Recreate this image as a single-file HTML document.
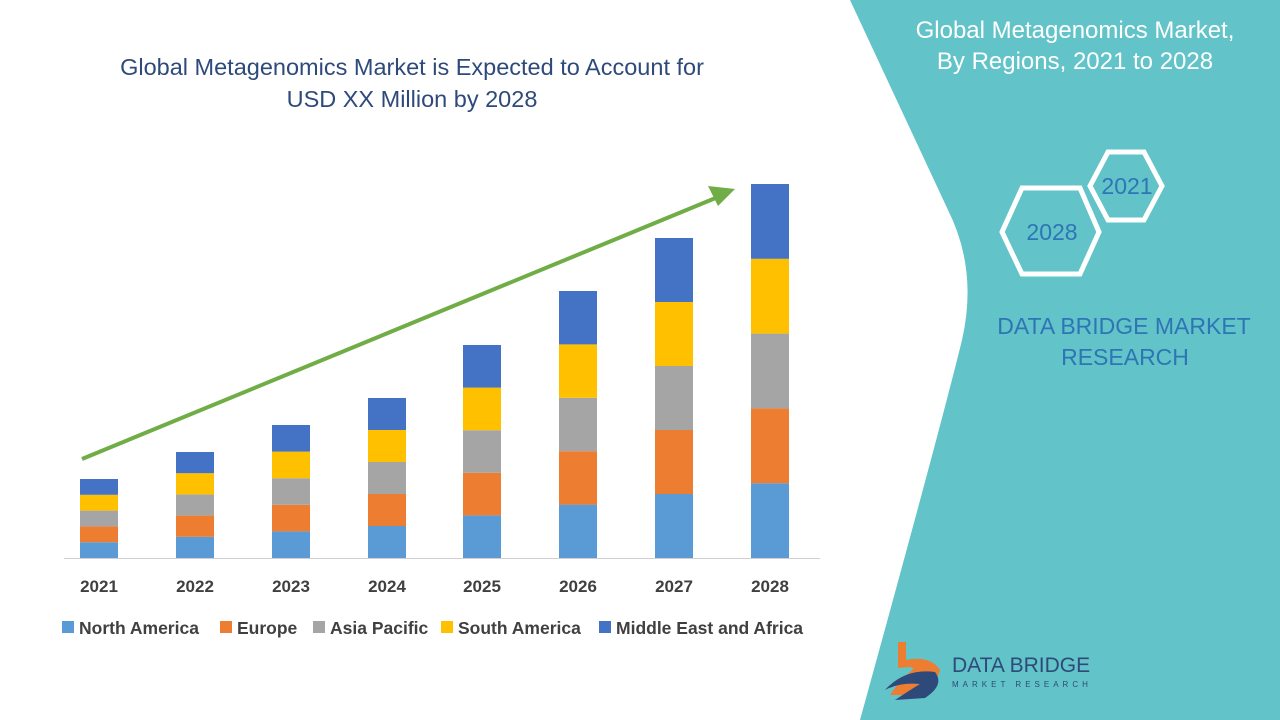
<!DOCTYPE html>
<html><head><meta charset="utf-8"><style>
body{margin:0;width:1280px;height:720px;overflow:hidden;background:#fff;font-family:"Liberation Sans",sans-serif;}
</style></head><body>
<svg width="1280" height="720" xmlns="http://www.w3.org/2000/svg" style="position:absolute;left:0;top:0">
<path d="M850,0 L948,210 Q978,270 962,340 Q940,430 860,720 L1280,720 L1280,0 Z" fill="#62C3C8"/>
<g fill="#2E4A7A" font-size="23.5" text-anchor="middle">
<text x="412" y="75">Global Metagenomics Market is Expected to Account for</text>
<text x="412" y="107">USD XX Million by 2028</text>
</g>
<line x1="64" y1="558.5" x2="820" y2="558.5" stroke="#d0d0d0" stroke-width="1"/>
<g id="bars"></g>
<line x1="82" y1="459" x2="718" y2="197" stroke="#70AD47" stroke-width="4"/>
<polygon points="735,189 708,186 718,206" fill="#70AD47"/>
<g font-size="17" font-weight="bold" fill="#404040" text-anchor="middle">
<text x="99" y="592">2021</text><text x="195" y="592">2022</text><text x="291" y="592">2023</text><text x="387" y="592">2024</text><text x="482" y="592">2025</text><text x="578" y="592">2026</text><text x="674" y="592">2027</text><text x="770" y="592">2028</text>
</g>
<g font-size="17.5" font-weight="bold" fill="#404040">
<rect x="62" y="621" width="12" height="12" fill="#5B9BD5"/><text x="79" y="634">North America</text>
<rect x="220" y="621" width="12" height="12" fill="#ED7D31"/><text x="237" y="634">Europe</text>
<rect x="313" y="621" width="12" height="12" fill="#A5A5A5"/><text x="330" y="634">Asia Pacific</text>
<rect x="441" y="621" width="12" height="12" fill="#FFC000"/><text x="458" y="634">South America</text>
<rect x="599" y="621" width="12" height="12" fill="#4472C4"/><text x="616" y="634">Middle East and Africa</text>
</g>
<g fill="#fff" font-size="24" text-anchor="middle">
<text x="1075" y="38">Global Metagenomics Market,</text>
<text x="1075" y="69">By Regions,  2021 to 2028</text>
</g>
<polygon points="1108,152 1144,152 1162,186 1144,220 1108,220 1090,186" fill="none" stroke="#fff" stroke-width="5"/>
<polygon points="1022,188 1080,188 1099,232 1080,274 1022,274 1002,232" fill="none" stroke="#fff" stroke-width="5"/>
<g fill="#2E75B6" font-size="23" text-anchor="middle">
<text x="1127" y="194">2021</text>
<text x="1052" y="240">2028</text>
<text x="1124" y="334">DATA BRIDGE MARKET</text>
<text x="1125" y="365">RESEARCH</text>
</g>
<path d="M898,642 L906,642 L906,660 Q930,655 940,670 Q935,690 905,695 L890,695 Q900,680 910,672 Q920,665 898,668 Z" fill="#ED7D31"/>
<path d="M885,690 Q905,668 935,672 Q945,685 925,698 L895,700 Q910,690 920,684 Q900,682 885,690 Z" fill="#2E4A7A"/>
<text x="952" y="672" font-size="21" fill="#2E4A7A">DATA BRIDGE</text>
<text x="952" y="687" font-size="8" fill="#2E4A7A" letter-spacing="4">MARKET RESEARCH</text>
</svg>
<script>
var tops=[479,452,425,398,345,291,238,184],xs=[80,176,272,368,463,559,655,751];
var cols=["#5B9BD5","#ED7D31","#A5A5A5","#FFC000","#4472C4"],s="";
for(var i=0;i<8;i++){var h=(558-tops[i])/5;for(var j=0;j<5;j++){var y=558-h*(j+1);s+='<rect x="'+xs[i]+'" y="'+y+'" width="38" height="'+h+'" fill="'+cols[j]+'"/>';}}
document.getElementById('bars').innerHTML=s;
</script>
</body></html>
